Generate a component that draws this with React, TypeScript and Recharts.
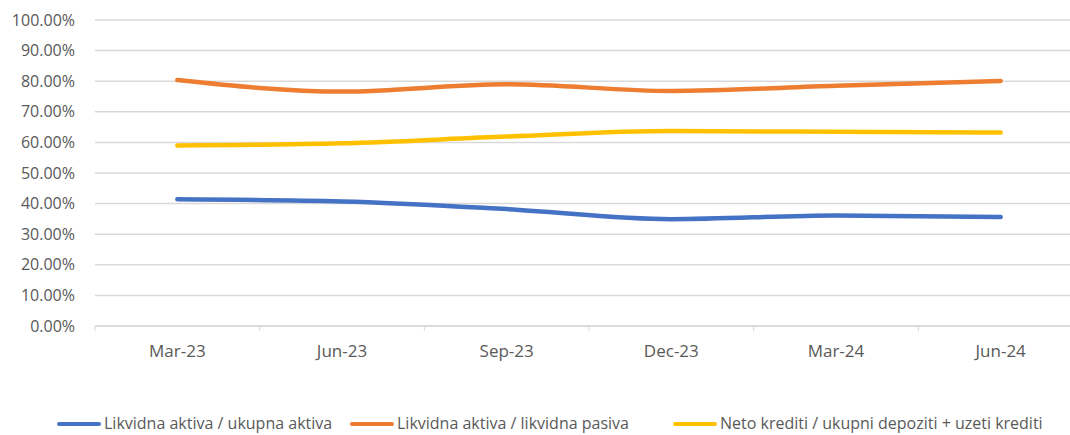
import React from 'react';
import { LineChart, Line, XAxis, YAxis, CartesianGrid } from 'recharts';

const quarters = ['Mar-23', 'Jun-23', 'Sep-23', 'Dec-23', 'Mar-24', 'Jun-24'];
const likvidnaUkupna = [41.4, 40.7, 38.2, 34.9, 36.1, 35.6];
const likvidnaPasiva = [80.4, 76.6, 79.0, 76.8, 78.5, 80.1];
const netoKrediti = [59.0, 59.7, 61.9, 63.7, 63.5, 63.2];
const yTicks = [0, 10, 20, 30, 40, 50, 60, 70, 80, 90, 100];

const seriesNames = [
  'Likvidna aktiva / ukupna aktiva',
  'Likvidna aktiva / likvidna pasiva',
  'Neto krediti / ukupni depoziti + uzeti krediti',
];
const colors = ['#4472C4', '#ED7D31', '#FFC000'];
const keys = ['a', 'b', 'c'];

const data = quarters.map((q, i) => ({
  quarter: q,
  a: likvidnaUkupna[i],
  b: likvidnaPasiva[i],
  c: netoKrediti[i],
}));

const FONT = '"Open Sans", sans-serif';
const PLOT_LEFT = 95;
const PLOT_RIGHT = 1083;
const BAND = (PLOT_RIGHT - PLOT_LEFT) / quarters.length;

const XTick = (props: any) => {
  const { x, payload, index } = props;
  const axisY = 326;
  return (
    <g>
      <line x1={x - BAND / 2} x2={x - BAND / 2} y1={axisY} y2={axisY + 5} stroke="#d9d9d9" />
      {index === quarters.length - 1 && (
        <line x1={x + BAND / 2} x2={x + BAND / 2} y1={axisY} y2={axisY + 5} stroke="#d9d9d9" />
      )}
      <text x={x} y={352} textAnchor="middle" dominantBaseline="middle" fill="#595959" fontSize={17} fontFamily={FONT}>
        {payload.value}
      </text>
    </g>
  );
};

const legendPos = [57, 350, 673];

const App: React.FC = () => {
  return (
    <div style={{ position: 'absolute', left: 0, top: 0, width: 1070, height: 435, overflow: 'hidden', background: '#fff' }}>
      <LineChart
        width={1085}
        height={435}
        data={data}
        margin={{ top: 20, right: 1085 - PLOT_RIGHT, bottom: 69, left: 0 }}
      >
        <CartesianGrid vertical={false} stroke="#d9d9d9" strokeWidth={1.5} />
        <XAxis
          dataKey="quarter"
          axisLine={{ stroke: '#d9d9d9', strokeWidth: 1.5 }}
          tickLine={false}
          tick={<XTick />}
          height={40}
          interval={0}
          padding={{ left: BAND / 2, right: BAND / 2 }}
        />
        <YAxis
          domain={[0, 100]}
          ticks={yTicks}
          width={PLOT_LEFT}
          axisLine={false}
          tickLine={false}
          tickFormatter={(v: number) => `${v.toFixed(2)}%`}
          tick={{ fill: '#595959', fontSize: 16, fontFamily: FONT }}
          tickMargin={14}
        />
        {keys.map((k, i) => (
          <Line
            key={k}
            type="monotone"
            dataKey={k}
            name={seriesNames[i]}
            stroke={colors[i]}
            strokeWidth={4.5}
            dot={false}
            strokeLinecap="round"
            isAnimationActive={false}
          />
        ))}
      </LineChart>
      {seriesNames.map((name, i) => (
        <div
          key={name}
          style={{
            position: 'absolute',
            left: legendPos[i],
            top: 413,
            display: 'flex',
            alignItems: 'center',
            fontFamily: FONT,
            fontSize: 16,
            lineHeight: '21px',
            color: '#595959',
            whiteSpace: 'nowrap',
          }}
        >
          <span style={{ display: 'inline-block', width: 44, height: 4, background: colors[i], borderRadius: 2, marginRight: 3 }} />
          {name}
        </div>
      ))}
    </div>
  );
};

export default App;
